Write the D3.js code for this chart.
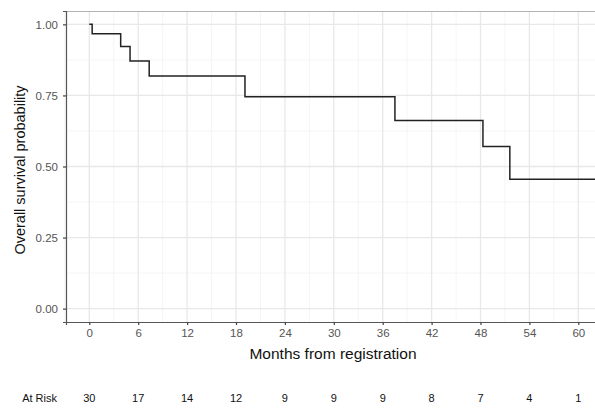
<!DOCTYPE html>
<html>
<head>
<meta charset="utf-8">
<script src="https://cdn.jsdelivr.net/npm/d3@7"></script>
<style>
body { margin: 0; background: #fff; }
text { font-family: "Liberation Sans", Arial, sans-serif; }
</style>
</head>
<body>
<svg id="chart"></svg>
<script>
var width = 595;
var height = 408;
var margin = {top: 11, right: -4, bottom: 86, left: 66};

// Kaplan-Meier step points (months, survival)
var stepTimes = [0, 0.35, 3.85, 5.0, 7.35, 19.1, 37.5, 48.3, 51.6, 65];
var stepSurv  = [1.0, 0.967, 0.922, 0.871, 0.818, 0.745, 0.662, 0.570, 0.455, 0.455];

var xTicks = [0, 6, 12, 18, 24, 30, 36, 42, 48, 54, 60];
var yTicks = [0, 0.25, 0.5, 0.75, 1.0];
var atRisk = [30, 17, 14, 12, 9, 9, 9, 8, 7, 4, 1];

var svg = d3.select("#chart")
    .attr("width", width)
    .attr("height", height);

var x0 = 89.3, pxPerMonth = 8.15;
var xScale = d3.scaleLinear()
    .domain([(margin.left - x0) / pxPerMonth, (width - margin.right - x0) / pxPerMonth])
    .range([margin.left, width - margin.right]);

var yScale = d3.scaleLinear()
    .domain([-0.047, 1.047])
    .range([height - margin.bottom, margin.top]);

var plotL = margin.left, plotR = width - margin.right;
var plotT = margin.top, plotB = height - margin.bottom;

// minor grid
var g = svg.append("g");
var minorX = d3.range(-3, 66, 6);
var minorY = [0.125, 0.375, 0.625, 0.875];
g.selectAll(".mx").data(minorX).enter().append("line")
    .attr("x1", d => xScale(d)).attr("x2", d => xScale(d))
    .attr("y1", plotT).attr("y2", plotB)
    .attr("stroke", "#f2f2f2").attr("stroke-width", 0.8);
g.selectAll(".my").data(minorY).enter().append("line")
    .attr("x1", plotL).attr("x2", plotR)
    .attr("y1", d => yScale(d)).attr("y2", d => yScale(d))
    .attr("stroke", "#f2f2f2").attr("stroke-width", 0.8);
// major grid
g.selectAll(".gx").data(xTicks).enter().append("line")
    .attr("x1", d => xScale(d)).attr("x2", d => xScale(d))
    .attr("y1", plotT).attr("y2", plotB)
    .attr("stroke", "#e8e8e8").attr("stroke-width", 1.3);
g.selectAll(".gy").data(yTicks).enter().append("line")
    .attr("x1", plotL).attr("x2", plotR)
    .attr("y1", d => yScale(d)).attr("y2", d => yScale(d))
    .attr("stroke", "#e8e8e8").attr("stroke-width", 1.3);

// survival curve
var pts = stepTimes.map((t, i) => [t, stepSurv[i]]);
var line = d3.line()
    .x(d => xScale(d[0]))
    .y(d => yScale(d[1]))
    .curve(d3.curveStepAfter);
svg.append("clipPath").attr("id", "clip").append("rect")
    .attr("x", plotL).attr("y", plotT).attr("width", plotR - plotL).attr("height", plotB - plotT);
svg.append("path")
    .datum(pts)
    .attr("clip-path", "url(#clip)")
    .attr("d", line)
    .attr("fill", "none")
    .attr("stroke", "#222")
    .attr("stroke-width", 1.5);

// panel border
svg.append("line").attr("x1", plotL).attr("x2", plotR).attr("y1", plotT + 0.5).attr("y2", plotT + 0.5)
    .attr("stroke", "#b3b3b3").attr("stroke-width", 1.2);

// axes
var xAxis = d3.axisBottom(xScale).tickValues(xTicks).tickSize(3).tickPadding(4);
var yAxis = d3.axisLeft(yScale).tickValues(yTicks).tickSize(3).tickPadding(5).tickFormat(d3.format(".2f"));

var gx = svg.append("g").attr("transform", "translate(0," + plotB + ")").call(xAxis);
var gy = svg.append("g").attr("transform", "translate(" + plotL + ",0)").call(yAxis);
[gx, gy].forEach(a => {
    a.select(".domain").attr("stroke", "#555").attr("stroke-width", 1.2);
    a.selectAll(".tick line").attr("stroke", "#444").attr("stroke-width", 1.2);
    a.selectAll(".tick text").attr("fill", "#555").style("font-size", "11.5px")
        .style("font-family", "'Liberation Sans', Arial, sans-serif");
});

svg.append("text")
    .attr("x", 333).attr("y", 359)
    .attr("text-anchor", "middle")
    .attr("fill", "#111")
    .style("font-size", "15.5px")
    .text("Months from registration");

svg.append("text")
    .attr("transform", "translate(25," + 170 + ") rotate(-90)")
    .attr("text-anchor", "middle")
    .attr("fill", "#111")
    .style("font-size", "14.5px")
    .text("Overall survival probability");

// at risk table
svg.append("text")
    .attr("x", 57).attr("y", 402)
    .attr("text-anchor", "end")
    .attr("fill", "#111")
    .style("font-size", "11px")
    .text("At Risk");
svg.selectAll(".risk").data(atRisk).enter().append("text")
    .attr("x", (d, i) => xScale(xTicks[i]))
    .attr("y", 402)
    .attr("text-anchor", "middle")
    .attr("fill", "#111")
    .style("font-size", "11px")
    .text(d => d);
</script>
</body>
</html>
